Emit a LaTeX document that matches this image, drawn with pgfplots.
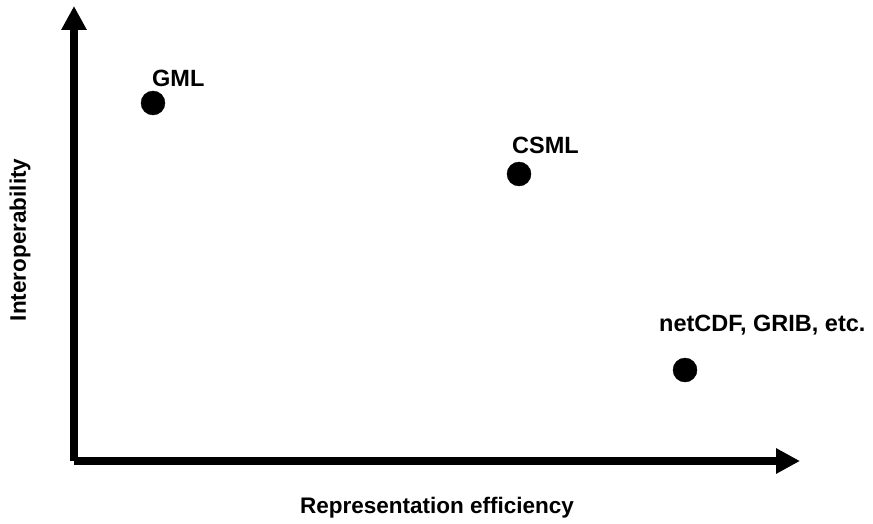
\documentclass[border=0pt]{standalone}
\usepackage{fontspec}
\setmainfont{Liberation Sans}
\usepackage{pgfplots}
\pgfplotsset{compat=1.18}
\usetikzlibrary{arrows.meta}
\begin{document}
\begin{tikzpicture}[x=1pt,y=1pt]
\useasboundingbox (0,0) rectangle (873,523);
\begin{axis}[
  at={(74pt,62pt)}, anchor=south west,
  scale only axis,
  width=726pt, height=455pt,
  xmin=74, xmax=800, ymin=62, ymax=517,
  enlargelimits=false,
  axis lines=left,
  axis line style={line width=8pt, -{Triangle[length=24pt,width=24pt]}},
  xtick=\empty, ytick=\empty,
  clip=false,
  font=\fontsize{22.5}{27}\selectfont\bfseries,
  xlabel={Representation efficiency},
  ylabel={Interoperability},
  xlabel style={at={(axis description cs:0.5,0)}, anchor=center, yshift=-47pt},
  ylabel style={at={(axis description cs:-0.0744,0.486)}, anchor=center},
]
\addplot[only marks, mark=*, mark size=12pt, black] coordinates {
  (153,420) (519,349) (685,153)
};
\begin{scope}[font=\fontsize{23.5}{28}\selectfont\bfseries]
\node[anchor=base west, inner sep=0pt] at (axis cs:152,436) {GML};
\node[anchor=base west, inner sep=0pt] at (axis cs:512,370) {CSML};
\node[anchor=base west, inner sep=0pt] at (axis cs:659,192) {netCDF, GRIB, etc.};
\end{scope}
\end{axis}
\end{tikzpicture}
\end{document}
